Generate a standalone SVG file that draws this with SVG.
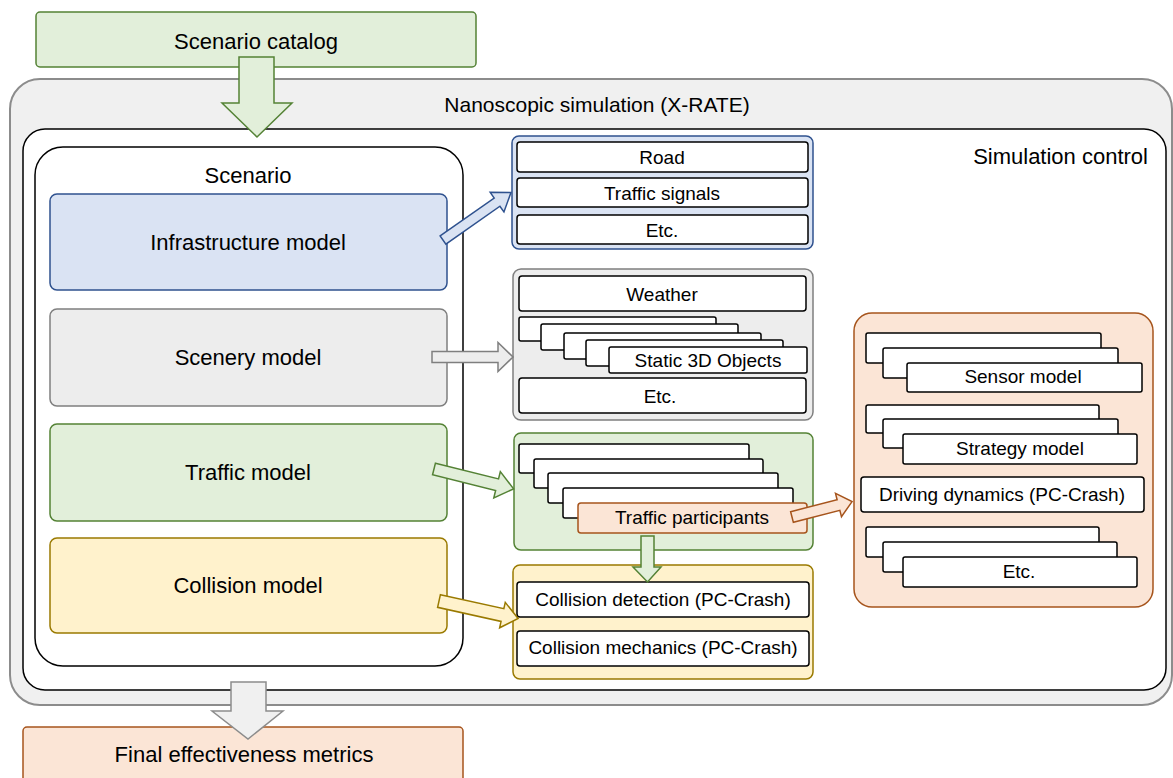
<svg xmlns="http://www.w3.org/2000/svg" width="1173" height="778" viewBox="0 0 1173 778">
<style>
text{font-family:"Liberation Sans",Arial,sans-serif;fill:#000;}
.big{font-size:22px;text-anchor:middle;}
.sm{font-size:19px;text-anchor:middle;}
.wb{fill:#fff;stroke:#000;stroke-width:1.5;}
.green{fill:#e2efda;stroke:#548235;stroke-width:1.5;}
.blue{fill:#dae3f3;stroke:#2f528f;stroke-width:1.5;}
.gray{fill:#ededed;stroke:#7f7f7f;stroke-width:1.5;}
.yellow{fill:#fff2cc;stroke:#9a7a00;stroke-width:1.5;}
.orange{fill:#fbe5d6;stroke:#a6541c;stroke-width:1.5;}
.outer{fill:#f0f0f0;stroke:#8c8c8c;stroke-width:2;}
</style>

<g id="scenario-catalog">
<rect class="green" x="36" y="12" width="440" height="55" rx="4"/>
<text class="big" x="256" y="49">Scenario catalog</text>
</g>

<g id="nanoscopic-simulation">
<rect class="outer" x="10" y="79" width="1162" height="626" rx="30"/>
<text x="597" y="112" style="font-size:21px;text-anchor:middle">Nanoscopic simulation (X-RATE)</text>
</g>

<g id="simulation-control">
<rect fill="#fff" stroke="#000" stroke-width="1.5" x="23" y="129" width="1143" height="561" rx="22"/>
<text x="1148" y="164" style="font-size:22px;text-anchor:end">Simulation control</text>
</g>

<g id="scenario">
<rect fill="#fff" stroke="#000" stroke-width="1.5" x="35" y="147" width="428" height="519" rx="28"/>
<text class="big" x="248" y="183">Scenario</text>
</g>

<g id="infrastructure-model">
<rect class="blue" x="50" y="194" width="397" height="96" rx="7"/>
<text class="big" x="248" y="250">Infrastructure model</text>
</g>

<g id="scenery-model">
<rect class="gray" x="50" y="309" width="397" height="97" rx="7"/>
<text class="big" x="248" y="365">Scenery model</text>
</g>

<g id="traffic-model">
<rect class="green" x="50" y="424" width="397" height="97" rx="7"/>
<text class="big" x="248" y="480">Traffic model</text>
</g>

<g id="collision-model">
<rect class="yellow" x="50" y="538" width="397" height="95" rx="7"/>
<text class="big" x="248" y="593">Collision model</text>
</g>

<g id="infrastructure-panel">
<rect class="blue" x="512" y="136" width="301" height="113" rx="7"/>
<rect class="wb" x="517" y="142" width="291" height="30" rx="3"/>
<text class="sm" x="662" y="164">Road</text>
<rect class="wb" x="517" y="178" width="291" height="29" rx="3"/>
<text class="sm" x="662" y="200">Traffic signals</text>
<rect class="wb" x="517" y="215" width="291" height="29" rx="3"/>
<text class="sm" x="662" y="237">Etc.</text>
</g>

<g id="scenery-panel">
<rect class="gray" x="513" y="269" width="300" height="151" rx="8"/>
<rect class="wb" x="519" y="276" width="287" height="35" rx="3"/>
<text class="sm" x="662" y="301">Weather</text>
<rect class="wb" x="519" y="317" width="197" height="24" rx="2"/>
<rect class="wb" x="541" y="324" width="197" height="26" rx="2"/>
<rect class="wb" x="564" y="333" width="197" height="26" rx="2"/>
<rect class="wb" x="586" y="340" width="197" height="26" rx="2"/>
<rect class="wb" x="609" y="347" width="198" height="26" rx="2"/>
<text class="sm" x="708" y="367">Static 3D Objects</text>
<rect class="wb" x="519" y="378" width="287" height="35" rx="3"/>
<text class="sm" x="660" y="403">Etc.</text>
</g>

<g id="traffic-panel">
<rect class="green" x="514" y="433" width="299" height="117" rx="7"/>
<rect class="wb" x="519" y="444" width="230" height="29" rx="2"/>
<rect class="wb" x="534" y="459" width="229" height="29" rx="2"/>
<rect class="wb" x="548" y="473" width="230" height="30" rx="2"/>
<rect class="wb" x="563" y="488" width="230" height="30" rx="2"/>
</g>

<g id="traffic-participants">
<rect class="orange" x="578" y="503" width="229" height="30" rx="3"/>
<text class="sm" x="692" y="524">Traffic participants</text>
</g>

<g id="collision-panel">
<rect class="yellow" x="513" y="565" width="300" height="114" rx="7"/>
<rect class="wb" x="517" y="582" width="292" height="35" rx="3"/>
<text class="sm" x="663" y="606">Collision detection (PC-Crash)</text>
<rect class="wb" x="517" y="631" width="292" height="35" rx="3"/>
<text class="sm" x="663" y="654">Collision mechanics (PC-Crash)</text>
</g>

<g id="driver-vehicle-panel">
<rect class="orange" x="854" y="313" width="299" height="294" rx="18"/>
<rect class="wb" x="866" y="333" width="235" height="30" rx="2"/>
<rect class="wb" x="883" y="348" width="235" height="30" rx="2"/>
<rect class="wb" x="907" y="363" width="235" height="29" rx="2"/>
<text class="sm" x="1023" y="383">Sensor model</text>
<rect class="wb" x="866" y="405" width="233" height="28" rx="2"/>
<rect class="wb" x="883" y="419" width="235" height="29" rx="2"/>
<rect class="wb" x="903" y="434" width="234" height="30" rx="2"/>
<text class="sm" x="1020" y="455">Strategy model</text>
<rect class="wb" x="861" y="477" width="283" height="35" rx="3"/>
<text class="sm" x="1002" y="501">Driving dynamics (PC-Crash)</text>
<rect class="wb" x="866" y="527" width="233" height="30" rx="2"/>
<rect class="wb" x="883" y="542" width="234" height="30" rx="2"/>
<rect class="wb" x="903" y="557" width="234" height="30" rx="2"/>
<text class="sm" x="1019" y="578">Etc.</text>
</g>

<g id="final-metrics">
<rect class="orange" x="23" y="727" width="440" height="70" rx="4" stroke="#8a3f10"/>
<text class="big" x="244" y="762">Final effectiveness metrics</text>
</g>

<g id="connectors">
<path class="green" d="M239,57 L274,57 L274,103 L292,103 L257,137 L222,103 L239,103 Z"/>
<path class="outer" style="stroke-width:1.5" d="M231,682 L266,682 L266,711 L283,711 L248,739 L212,711 L231,711 Z"/>
<path class="blue" transform="translate(443,240) rotate(-35)" d="M0,-5 L66,-5 L66,-12 L83,0 L66,12 L66,5 L0,5 Z"/>
<path class="gray" transform="translate(432,357)" d="M0,-5.5 L66,-5.5 L66,-14.5 L81,0 L66,14.5 L66,5.5 L0,5.5 Z"/>
<path class="green" transform="translate(434,469) rotate(14)" d="M0,-6 L65,-6 L65,-13.5 L82,0 L65,13.5 L65,6 L0,6 Z"/>
<path class="yellow" transform="translate(439,601) rotate(12.5)" d="M0,-6.5 L65,-6.5 L65,-13 L81,0 L65,13 L65,6.5 L0,6.5 Z"/>
<path class="orange" transform="translate(792,517) rotate(-14.4)" d="M0,-5.5 L48,-5.5 L48,-12 L62,0 L48,12 L48,5.5 L0,5.5 Z"/>
<path class="green" d="M641,536 L654,536 L654,567 L661,567 L647.5,582 L633,567 L641,567 Z"/>
</g>
</svg>
